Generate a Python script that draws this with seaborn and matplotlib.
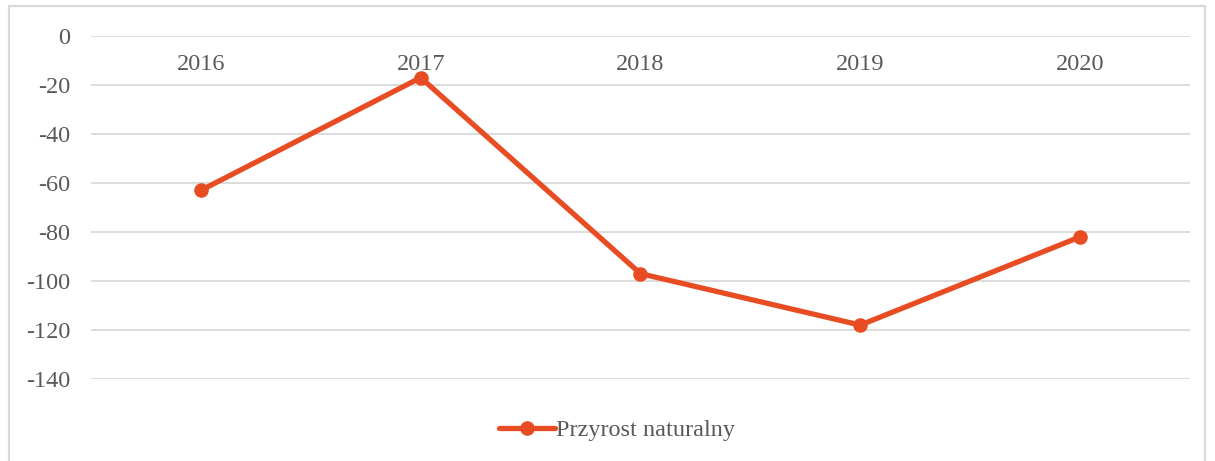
import pandas as pd
import seaborn as sns
import matplotlib.pyplot as plt
from matplotlib.patches import Rectangle

sns.set_theme(style="white")
plt.rcParams['font.family'] = ['Liberation Serif', 'DejaVu Serif']

YEARS = ['2016', '2017', '2018', '2019', '2020']
GROWTH = [-63, -17, -97, -118, -82]
Y_TICKS = [0, -20, -40, -60, -80, -100, -120, -140]

LINE_COLOR = '#E84C22'
TEXT_COLOR = '#595959'
GRID_COLOR = '#D9D9D9'

df = pd.DataFrame({'year': YEARS, 'value': GROWTH})

fig = plt.figure(figsize=(12.15, 4.61), dpi=100)
ax = fig.add_axes([0.0749, 0.1779, 0.9045, 0.744])

sns.lineplot(data=df, x='year', y='value', ax=ax, color=LINE_COLOR,
             linewidth=3.8, marker='o', markersize=10.5, markeredgewidth=0,
             label='Przyrost naturalny')

ax.set_ylim(-140, 0)
ax.set_xlim(-0.5, 4.5)
ax.set_yticks(Y_TICKS)
ax.set_yticklabels([str(t) for t in Y_TICKS])
ax.yaxis.grid(True, color=GRID_COLOR, linewidth=1.3)
ax.set_axisbelow(True)

# category labels sit just under the zero line, like Excel does it
ax.spines['bottom'].set_position(('data', 0))
for side in ['top', 'right', 'left', 'bottom']:
    ax.spines[side].set_visible(False)
ax.tick_params(axis='x', length=0, pad=13, labelsize=17.5, labelcolor=TEXT_COLOR)
ax.tick_params(axis='y', length=0, pad=15, labelsize=17.5, labelcolor=TEXT_COLOR)
ax.set_xlabel('')
ax.set_ylabel('')

leg = ax.legend(loc='center', bbox_to_anchor=(0.508, 0.067), bbox_transform=fig.transFigure,
                frameon=False, fontsize=17.5, handlelength=2.3, handletextpad=0.05)
for t in leg.get_texts():
    t.set_color(TEXT_COLOR)

# light chart frame around the whole chart area
fig.patches.append(Rectangle((9 / 1215, -0.1), 1196 / 1215, 1.1 - 6 / 461,
                             transform=fig.transFigure, fill=False,
                             edgecolor=GRID_COLOR, linewidth=1.6))

fig.savefig('out.png', dpi=100)
